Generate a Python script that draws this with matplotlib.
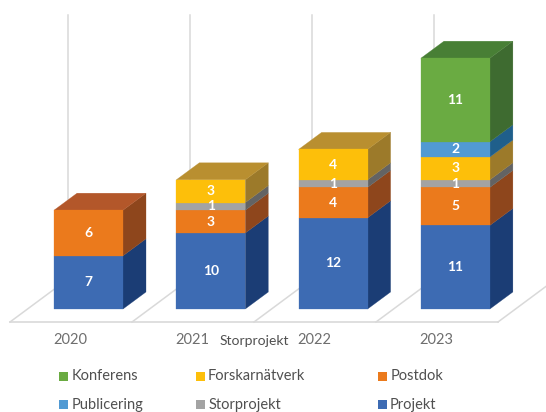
import matplotlib
matplotlib.use("Agg")
import matplotlib.pyplot as plt
from matplotlib.patches import Polygon, Rectangle

years = ["2020", "2021", "2022", "2023"]
projekt = [7, 10, 12, 11]
postdok = [6, 3, 4, 5]
storprojekt = [0, 1, 1, 1]
forskarnatverk = [0, 3, 4, 3]
publicering = [0, 0, 0, 2]
konferens = [0, 0, 0, 11]

# series: name, values, front, side, top
series = [
    ("Projekt", projekt, "#3D6BB3", "#1B3D75", "#2C5596"),
    ("Postdok", postdok, "#EB7A1C", "#8E461C", "#B3572A"),
    ("Storprojekt", storprojekt, "#A3A3A3", "#636363", "#7F7F7F"),
    ("Forskarnätverk", forskarnatverk, "#FDBF0A", "#9C7A2A", "#B98F30"),
    ("Publicering", publicering, "#519AD3", "#1F5F8B", "#3A7BAE"),
    ("Konferens", konferens, "#6AAB42", "#3E6B30", "#487F35"),
]

W, H = 546, 412
PX_STEP, PX_UNIT = 122.3, 7.6
PX_X0, PX_Y0 = 88.5, 309.0

plt.rcParams["font.family"] = ["Lato", "DejaVu Sans"]
fig = plt.figure(figsize=(W / 100, H / 100), dpi=100)
ax = fig.add_axes([0, 0, 1, 1])
ax.set_xlim((0 - PX_X0) / PX_STEP, (W - PX_X0) / PX_STEP)
ax.set_ylim((PX_Y0 - H) / PX_UNIT, PX_Y0 / PX_UNIT)
ax.axis("off")

half = 34.5 / PX_STEP
dx, dy = 23 / PX_STEP, 17 / PX_UNIT


def px(x, y):
    return (x / W, 1 - y / H)


# floor and walls (pixels, in axes fraction)
grid = "#D9D9D9"
T = ax.transAxes
front_y = 322
floor_x = [10 + 122 * i for i in range(5)]
ax.plot(*zip(px(floor_x[0], front_y), px(floor_x[-1], front_y)), transform=T,
        color=grid, lw=1.2, zorder=1)
for fx in floor_x:
    ax.plot(*zip(px(fx, front_y), px(fx + 58, front_y - 43)), transform=T,
            color=grid, lw=1.1, zorder=1, clip_on=True)
    ax.plot(*zip(px(fx + 58, front_y - 43), px(fx + 58, 15)), transform=T,
            color=grid, lw=1.1, zorder=1, clip_on=True)

# bars
for i in range(len(years)):
    bottom = 0
    last = None
    for name, vals, front, side, top in series:
        v = vals[i]
        if v == 0:
            continue
        l, r = i - half, i + half
        b, t = bottom, bottom + v
        ax.add_patch(Polygon([(r, b), (r + dx, b + dy), (r + dx, t + dy), (r, t)],
                             fc=side, ec=side, lw=0.2, zorder=3))
        ax.add_patch(Rectangle((l, b), r - l, v, fc=front, ec=front, lw=0.2, zorder=4))
        ax.text(i, b + v / 2, str(v), color="white", ha="center", va="center",
                fontsize=10, fontweight="bold", zorder=6)
        bottom = t
        last = top
    l, r = i - half, i + half
    ax.add_patch(Polygon([(l, bottom), (r, bottom), (r + dx, bottom + dy), (l + dx, bottom + dy)],
                         fc=last, ec=last, lw=0.2, zorder=3))

# category labels
for i, y in enumerate(years):
    x, yy = px(70.5 + 122 * i, 340)
    ax.text(x, yy, y, transform=T, ha="center", va="center", fontsize=10.5, color="#6E6E6E")

x, yy = px(254, 341)
ax.text(x, yy, "Storprojekt", transform=T, ha="center", va="center", fontsize=10, color="#505050")

# legend
colors = {s[0]: s[2] for s in series}
legend_rows = [
    (376, [("Konferens", 58.5, 72), ("Forskarnätverk", 196, 208), ("Postdok", 378, 391)]),
    (404, [("Publicering", 58.5, 72), ("Storprojekt", 196, 209), ("Projekt", 378, 390)]),
]
for ry, row in legend_rows:
    for name, mx, tx in row:
        ax.add_patch(Rectangle(px(mx, ry + 4.5), 9 / W, 9 / H, transform=T,
                               fc=colors[name], ec="none", zorder=5))
        x, yy = px(tx, ry + 0.5)
        ax.text(x, yy, name, transform=T, ha="left", va="center", fontsize=10.5, color="#505050")

fig.savefig("out.png", dpi=100)
